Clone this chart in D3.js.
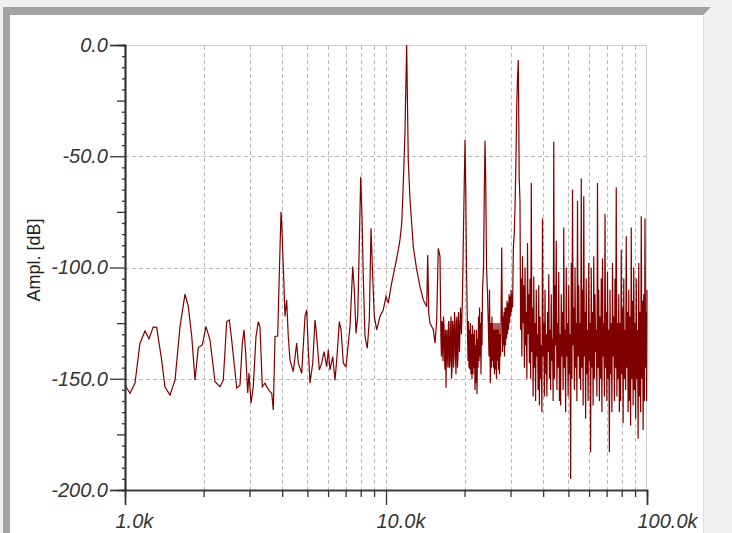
<!DOCTYPE html>
<html>
<head>
<meta charset="utf-8">
<script src="https://cdn.jsdelivr.net/npm/d3@7"></script>
<style>
  html, body { margin: 0; padding: 0; background: #f0f0f0; }
  svg { display: block; }
</style>
</head>
<body>
<svg id="chart" width="732" height="533"></svg>
<script>
// ---- data (frequency in kHz, amplitude in dB) ----
// 1 kHz .. 16 kHz
const freqLow = [
  1.000,1.045,1.092,1.141,1.193,1.236,1.283,1.323,1.382,1.423,1.487,1.555,1.624,1.698,1.748,1.802,1.854,1.909,1.978,
  2.043,2.117,2.212,2.312,2.380,2.453,2.510,2.563,2.679,2.758,2.815,2.857,2.900,2.952,2.986,3.039,3.101,3.176,3.241,
  3.290,3.358,3.439,3.510,3.573,3.649,3.700,3.756,3.847,3.902,3.961,3.985,4.042,4.102,4.164,4.223,4.287,4.413,4.548,
  4.613,4.753,4.894,4.968,5.040,5.114,5.239,5.346,5.427,5.553,5.671,5.788,5.927,6.01,6.102,6.249,6.377,6.49,6.624,
  6.724,6.862,7.028,7.173,7.281,7.456,7.561,7.676,7.792,7.903,8.001,8.091,8.185,8.309,8.480,8.630,8.761,8.893,9.020,
  9.213,9.484,9.765,10.00,10.20,10.51,10.83,11.15,11.31,11.49,11.65,11.82,12.00,12.17,12.36,12.54,12.72,13.11,13.50,
  13.90,14.32,14.45,14.58,14.74,15.18,15.41,15.64,15.86,16.10
];
const ampLow = [
  -152.8,-156.5,-152,-134,-128.5,-132,-126.7,-127,-141.6,-153.7,-157.3,-150.6,-126.7,-112,-117.6,-131,-150.6,-136,-134.8,
  -126.6,-132.6,-151.3,-153.6,-150.6,-124.3,-123.6,-132.6,-154.2,-152.8,-134,-128,-138.4,-156.4,-147.4,-161,-153.6,-131,-124.3,
  -126.6,-153.6,-152,-154,-155.5,-156.5,-164,-131,-130.8,-102.5,-75,-80,-99.6,-122,-114.6,-131,-141.6,-146.8,-134,
  -143,-147.5,-122,-119,-137,-152,-143,-123.6,-131,-146,-143,-137.8,-144.6,-137,-146,-140,-150.6,-140,-124.3,
  -128,-143,-144.6,-134,-126.6,-99.6,-110,-129.6,-122,-89,-59.2,-77,-104,-131,-136.3,-123.6,-82.4,-104,-122,
  -128,-122,-119,-113,-116,-107,-99.6,-92,-87.6,-80,-62,-39.6,0,-51.7,-69.7,-80,-90.6,-101,-108.6,
  -114.6,-117.6,-94.4,-120.6,-125,-128,-134,-123.6,-91.4,-95
];
// 16 kHz .. 32 kHz
const freqMid = [
  16.24,16.31,16.39,16.46,16.53,16.60,16.68,16.75,16.83,16.90,
  16.98,17.05,17.13,17.20,17.28,17.35,17.43,17.51,17.59,17.67,
  17.75,17.82,17.90,17.98,18.06,18.14,18.22,18.30,18.38,18.46,
  18.54,18.62,18.71,18.79,18.87,18.96,19.13,19.29,19.46,19.64,
  19.78,19.96,20.08,20.21,20.35,20.53,20.62,20.71,20.80,20.90,
  20.98,21.07,21.16,21.26,21.35,21.45,21.55,21.64,21.74,21.83,
  21.93,22.03,22.12,22.22,22.32,22.42,22.52,22.62,22.72,22.82,
  22.92,23.02,23.12,23.23,23.33,23.43,23.64,23.81,23.95,24.10,
  24.28,24.49,24.71,24.81,24.92,25.10,25.25,25.36,25.47,25.58,
  25.70,25.81,25.93,26.04,26.16,26.27,26.39,26.51,26.63,26.74,
  26.86,26.98,27.10,27.22,27.35,27.47,27.59,27.76,27.96,28.08,
  28.20,28.33,28.45,28.58,28.71,28.83,28.96,29.09,29.22,29.35,
  29.48,29.61,29.74,29.86,30.00,30.14,30.27,30.41,30.54,30.76,
  31.00,31.21,31.44,31.68,31.91,32.13,32.39
];
const ampMid = [
  -132,-140,-124,-130,-142,-122,-126,-140,-146,-128,
  -154,-135,-128,-140,-145,-125,-124,-145,-142,-128,
  -122,-150,-146,-124,-126,-145,-140,-120,-124,-140,
  -148,-125,-122,-145,-140,-120,-138,-118,-130,-112,
  -88,-60,-42.7,-65,-102,-130,-142,-124,-145,-128,
  -146,-125,-148,-130,-150,-126,-148,-130,-145,-128,
  -155,-135,-152,-128,-157,-132,-145,-122,-142,-118,
  -140,-125,-148,-120,-135,-110,-100,-65,-43,-60,
  -100,-112,-130,-140,-110,-152,-125,-145,-122,-142,
  -125,-145,-128,-148,-125,-146,-128,-150,-125,-142,
  -128,-146,-125,-148,-130,-140,-125,-91,-138,-122,
  -135,-120,-140,-118,-135,-118,-132,-115,-130,-116,
  -128,-112,-125,-113,-122,-110,-120,-112,-118,-91,
  -85,-73,-55,-28,-15,-6.7,-60
];
// 32 kHz .. 100 kHz
const freqHigh = [
  32.61,32.79,32.97,33.15,33.34,33.52,33.71,33.90,
  34.09,34.28,34.47,34.66,34.85,35.04,35.24,35.43,
  35.63,35.83,36.03,36.23,36.42,36.63,36.83,37.03,
  37.23,37.43,37.64,37.85,38.06,38.27,38.48,38.70,
  38.91,39.12,39.34,39.56,39.78,40.00,40.22,40.44,
  40.67,40.89,41.12,41.35,41.58,41.81,42.04,42.27,
  42.50,42.73,42.97,43.21,43.45,43.69,43.93,44.17,
  44.42,44.66,44.91,45.16,45.41,45.66,45.91,46.17,
  46.42,46.68,46.94,47.20,47.46,47.72,47.98,48.25,
  48.51,48.78,49.05,49.32,49.59,49.87,50.14,50.42,
  50.70,50.98,51.26,51.55,51.83,52.12,52.40,52.70,
  52.99,53.28,53.58,53.87,54.17,54.47,54.77,55.08,
  55.38,55.68,56.00,56.31,56.62,56.93,57.24,57.56,
  57.87,58.19,58.51,58.84,59.16,59.49,59.81,60.15,
  60.48,60.81,61.15,61.49,61.83,62.17,62.51,62.86,
  63.21,63.56,63.91,64.27,64.62,64.98,65.34,65.70,
  66.06,66.42,66.79,67.16,67.53,67.91,68.28,68.66,
  69.04,69.42,69.81,70.19,70.58,70.97,71.36,71.76,
  72.15,72.55,72.95,73.36,73.76,74.17,74.58,74.99,
  75.40,75.81,76.24,76.66,77.08,77.51,77.94,78.37,
  78.80,79.23,79.67,80.12,80.56,81.01,81.45,81.90,
  82.35,82.80,83.26,83.72,84.19,84.66,85.12,85.59,
  86.07,86.54,87.03,87.51,87.99,88.48,88.96,89.45,
  89.95,90.44,90.95,91.45,91.96,92.47,92.97,93.49,
  94.01,94.53,95.05,95.58,96.11,96.64,97.17,97.71,
  98.25,98.79,99.34,99.67,100.0
];
const ampHigh = [
  -70,-128,-105,-140,-95,-125,-108,-145,
  -100,-135,-120,-150,-89,-130,-112,-143,
  -105,-150,-62,-138,-118,-158,-104,-145,
  -125,-160,-110,-140,-130,-155,-108,-162,
  -122,-150,-135,-165,-78,-140,-125,-158,
  -110,-148,-130,-158,-120,-138,-103,-150,
  -128,-155,-112,-142,-132,-160,-43.5,-150,
  -108,-135,-88,-155,-125,-145,-102,-160,
  -130,-162,-112,-140,-120,-155,-82,-145,
  -128,-165,-100,-140,-125,-158,-108,-148,
  -130,-195,-98,-150,-65,-135,-118,-155,
  -100,-145,-125,-160,-70,-140,-108,-150,
  -125,-155,-60,-145,-110,-162,-68,-140,
  -120,-168,-105,-148,-128,-160,-98,-142,
  -125,-183,-100,-145,-120,-162,-95,-150,
  -112,-138,-128,-158,-62,-145,-110,-160,
  -122,-150,-105,-165,-96,-140,-125,-158,
  -76,-145,-120,-160,-102,-150,-128,-183,
  -110,-148,-125,-165,-98,-140,-122,-160,
  -105,-145,-64,-158,-125,-150,-112,-165,
  -125,-160,-92,-148,-118,-170,-105,-150,
  -128,-155,-86,-145,-120,-165,-110,-160,
  -122,-171,-82,-150,-115,-162,-100,-155,
  -125,-168,-105,-150,-128,-177,-98,-158,
  -120,-165,-77,-150,-115,-173,-112,-160,
  -78,-145,-120,-160,-110
];
const freqKHz = freqLow.concat(freqMid, freqHigh);
const amplitudeDb = ampLow.concat(ampMid, ampHigh);

const xMajorTicks = [1, 10, 100];
const xMajorLabels = ["1.0k", "10.0k", "100.0k"];
const xMinorTicks = [2,3,4,5,6,7,8,9,20,30,40,50,60,70,80,90];
const yMajorTicks = [0, -50, -100, -150, -200];
const yMidTicks = [-25, -75, -125, -175];
const yMinorTicks = [-5,-10,-15,-20,-30,-35,-40,-45,-55,-60,-65,-70,-80,-85,-90,-95,
  -105,-110,-115,-120,-130,-135,-140,-145,-155,-160,-165,-170,-180,-185,-190,-195];
const yAxisTitle = "Ampl. [dB]";

// ---- drawing ----
const svg = d3.select("#chart");
const font = "'Liberation Sans', Arial, sans-serif";

// outer frame
svg.append("rect").attr("x", 0).attr("y", 0).attr("width", 732).attr("height", 533).attr("fill", "#f0f0f0");
svg.append("path").attr("d", "M3,7 L711,7 L703,15 L10,15 L10,533 L3,533 Z").attr("fill", "#a3a3a3");
svg.append("rect").attr("x", 10).attr("y", 15).attr("width", 693).attr("height", 518).attr("fill", "#ffffff");
svg.append("line").attr("x1", 703.5).attr("x2", 703.5).attr("y1", 15).attr("y2", 533).attr("stroke", "#dcdcdc");

const plot = { left: 125, right: 647, top: 45, bottom: 490 };
const x = d3.scaleLog().domain([1, 100]).range([plot.left, plot.right]);
const y = d3.scaleLinear().domain([-200, 0]).range([plot.bottom, plot.top]);

// plot border (top / right)
svg.append("path")
  .attr("d", `M${plot.left},${plot.top + 0.5} H${plot.right - 0.5} V${plot.bottom}`)
  .attr("fill", "none").attr("stroke", "#cccccc").attr("stroke-width", 1);

// grid
const grid = svg.append("g").attr("stroke", "#b9b9b9").attr("stroke-dasharray", "4,3").attr("stroke-width", 1);
grid.selectAll("line.v").data(xMinorTicks.concat([10])).join("line")
  .attr("x1", d => Math.round(x(d)) + 0.5).attr("x2", d => Math.round(x(d)) + 0.5)
  .attr("y1", plot.top + 1).attr("y2", plot.bottom);
grid.selectAll("line.h").data([-50, -100, -150]).join("line")
  .attr("y1", d => Math.round(y(d)) + 0.5).attr("y2", d => Math.round(y(d)) + 0.5)
  .attr("x1", plot.left).attr("x2", plot.right - 1);

// data line
const line = d3.line().x((d, i) => x(freqKHz[i])).y(d => y(d));
svg.append("path")
  .datum(amplitudeDb)
  .attr("d", line)
  .attr("fill", "none")
  .attr("stroke", "#800000")
  .attr("stroke-width", 1.2)
  .attr("stroke-linejoin", "miter");

// axes
const axisColor = "#333333";
function styleAxis(g) {
  g.select(".domain").attr("stroke", axisColor).attr("stroke-width", 1.5);
  g.selectAll(".tick line").attr("stroke", axisColor).attr("stroke-width", 1.3);
  g.selectAll(".tick text").attr("fill", "#333").style("font-family", font)
    .style("font-size", "20px").style("font-style", "italic");
}

const yMinorG = svg.append("g").attr("transform", `translate(${plot.left},0)`)
  .call(d3.axisLeft(y).tickValues(yMinorTicks).tickSize(3).tickFormat(""));
styleAxis(yMinorG);
const yMidG = svg.append("g").attr("transform", `translate(${plot.left},0)`)
  .call(d3.axisLeft(y).tickValues(yMidTicks).tickSize(8).tickFormat(""));
styleAxis(yMidG);
const yMajorG = svg.append("g").attr("transform", `translate(${plot.left},0)`)
  .call(d3.axisLeft(y).tickValues(yMajorTicks).tickSize(15).tickPadding(2).tickFormat(d => d.toFixed(1)));
styleAxis(yMajorG);

const xMinorG = svg.append("g").attr("transform", `translate(0,${plot.bottom})`)
  .call(d3.axisBottom(x).tickValues(xMinorTicks).tickSize(7).tickFormat(""));
styleAxis(xMinorG);
const xMajorG = svg.append("g").attr("transform", `translate(0,${plot.bottom})`)
  .call(d3.axisBottom(x).tickValues(xMajorTicks).tickSize(15).tickPadding(9)
    .tickFormat((d, i) => xMajorLabels[i]));
styleAxis(xMajorG);
xMajorG.selectAll(".tick text").attr("text-anchor", "start").attr("dx", -10);

// y title
svg.append("text")
  .attr("transform", "translate(40,260) rotate(-90)")
  .attr("text-anchor", "middle")
  .style("font-family", font).style("font-size", "18px").attr("fill", "#222")
  .text(yAxisTitle);
</script>
</body>
</html>
